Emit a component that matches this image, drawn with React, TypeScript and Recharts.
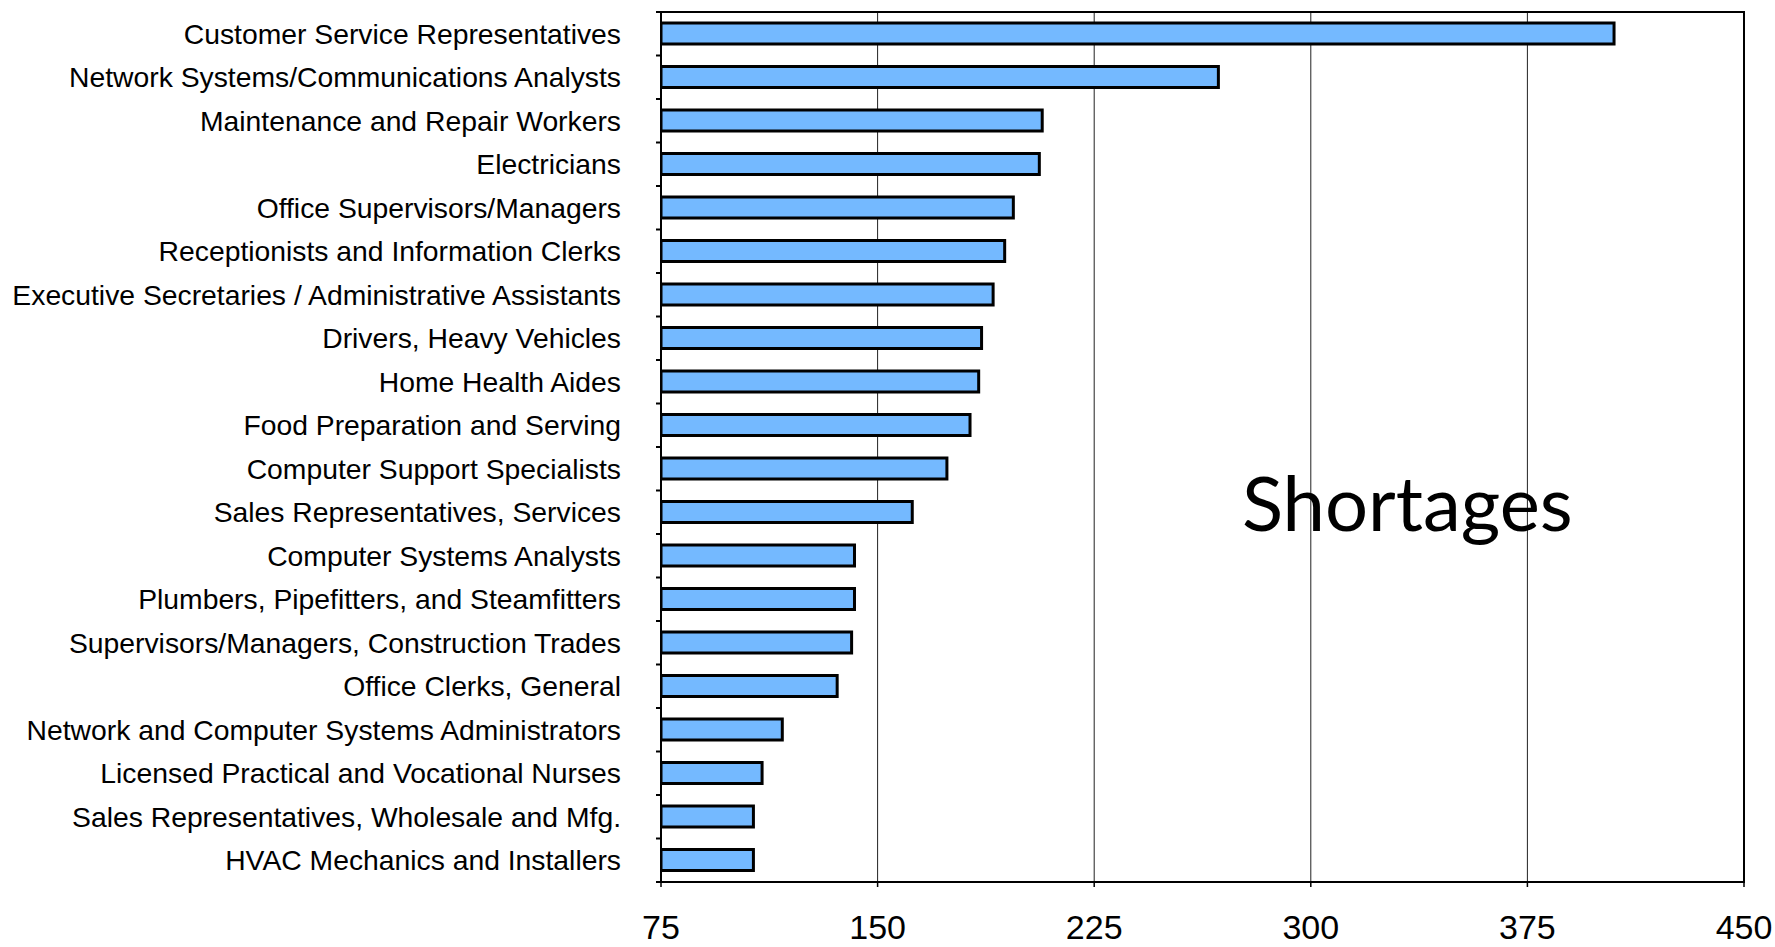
import React from "react";
import { BarChart, Bar, XAxis, YAxis, CartesianGrid, ReferenceArea } from "recharts";

const occupations = [
  "Customer Service Representatives",
  "Network Systems/Communications Analysts",
  "Maintenance and Repair Workers",
  "Electricians",
  "Office Supervisors/Managers",
  "Receptionists and Information Clerks",
  "Executive Secretaries / Administrative Assistants",
  "Drivers, Heavy Vehicles",
  "Home Health Aides",
  "Food Preparation and Serving",
  "Computer Support Specialists",
  "Sales Representatives, Services",
  "Computer Systems Analysts",
  "Plumbers, Pipefitters, and Steamfitters",
  "Supervisors/Managers, Construction Trades",
  "Office Clerks, General",
  "Network and Computer Systems Administrators",
  "Licensed Practical and Vocational Nurses",
  "Sales Representatives, Wholesale and Mfg.",
  "HVAC Mechanics and Installers",
];

const shortages = [405, 268, 207, 206, 197, 194, 190, 186, 185, 182, 174, 162, 142, 142, 141, 136, 117, 110, 107, 107];

const xTicks = [75, 150, 225, 300, 375, 450];

const WIDTH = 1775;
const HEIGHT = 947;
const MARGIN = { top: 12, right: 31, bottom: 0, left: 0 };
const Y_AXIS_W = 661;
const X_AXIS_H = 65;
const PLOT_H = HEIGHT - MARGIN.top - MARGIN.bottom - X_AXIS_H;
const BAND = PLOT_H / occupations.length;
const LABEL_GAP = 40;
const FONT = "'Liberation Sans', Arial, Helvetica, sans-serif";

const data = occupations.map((name, i) => ({ name, value: shortages[i] }));

function CategoryTick(props: any) {
  const { x, y, payload, index } = props;
  const axisX = x + LABEL_GAP;
  return (
    <g>
      <text x={x} y={y} dy="0.36em" textAnchor="end" fontSize={28.3} fill="#000" fontFamily={FONT}>
        {payload.value}
      </text>
      <line x1={axisX - 5} x2={axisX} y1={y - BAND / 2} y2={y - BAND / 2} stroke="#000" strokeWidth={2} />
      {index === occupations.length - 1 && (
        <line x1={axisX - 5} x2={axisX} y1={y + BAND / 2} y2={y + BAND / 2} stroke="#000" strokeWidth={2} />
      )}
    </g>
  );
}

export default function App() {
  return (
    <div style={{ position: "absolute", left: 0, top: 0, width: WIDTH, height: HEIGHT, background: "#fff" }}>
      <BarChart width={WIDTH} height={HEIGHT} data={data} layout="vertical" margin={MARGIN} barCategoryGap={0}>
        <CartesianGrid horizontal={false} vertical stroke="#222" strokeWidth={1} />
        <XAxis
          type="number"
          domain={[75, 450]}
          ticks={xTicks}
          allowDataOverflow
          height={X_AXIS_H}
          axisLine={{ stroke: "#000", strokeWidth: 2 }}
          tickLine={{ stroke: "#000", strokeWidth: 1.5 }}
          tickSize={5}
          tickMargin={28}
          tick={{ fontSize: 34, fill: "#000", fontFamily: FONT }}
        />
        <YAxis
          type="category"
          dataKey="name"
          width={Y_AXIS_W}
          interval={0}
          axisLine={{ stroke: "#000", strokeWidth: 2 }}
          tickLine={false}
          tickSize={0}
          tickMargin={LABEL_GAP}
          tick={<CategoryTick />}
        />
        <ReferenceArea x1={75} x2={450} fill="none" stroke="#000" strokeWidth={2} ifOverflow="visible" />
        <Bar dataKey="value" fill="#74B9FF" stroke="#000" strokeWidth={3} barSize={21} isAnimationActive={false} />
        <text x={1242} y={531} fontSize={76} fontFamily="Lato, 'Open Sans', sans-serif" fill="#000">
          Shortages
        </text>
      </BarChart>
    </div>
  );
}
